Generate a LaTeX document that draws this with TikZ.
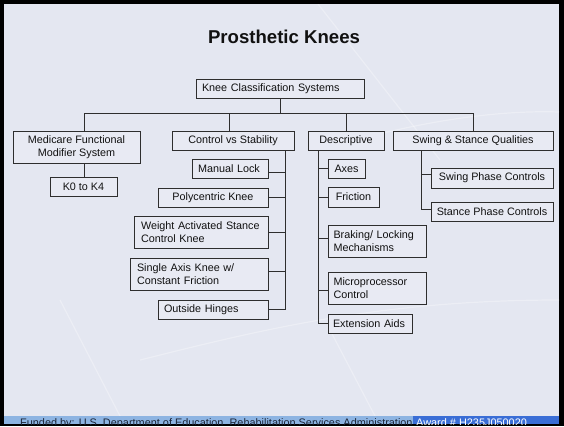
\documentclass[tikz,border=0pt]{standalone}
\usepackage{fontspec}
\setmainfont{Liberation Sans}
\definecolor{bg}{HTML}{E4E7F1}
\definecolor{boxc}{HTML}{E8EAF3}
\definecolor{linec}{HTML}{2E2E2E}
\definecolor{txt}{HTML}{111111}
\definecolor{footl}{HTML}{8DB4E2}
\definecolor{footd}{HTML}{3A6ED6}
\definecolor{foott}{HTML}{1C2638}
\begin{document}
\begin{tikzpicture}[x=1pt,y=-1pt,
  box/.style={draw=linec, line width=0.9pt, fill=boxc, inner sep=0pt,
    font=\fontsize{10.8}{13}\selectfont, text=txt},
  lbox/.style={box, align=left},
  cbox/.style={box, align=center},
  conn/.style={draw=linec, line width=0.9pt},
  deco/.style={draw=white, line width=1.2pt, opacity=0.3}]
\useasboundingbox (0,0) rectangle (564,426);
\fill[black] (0,0) rectangle (564,426);
\fill[bg] (4,4) rectangle (559,424);
% faint background swooshes
\begin{scope}
\clip (4,4) rectangle (559,416);
\draw[deco] (318,4) -- (440,160);
\draw[deco] (60,300) -- (120,416);
\draw[deco] (330,330) -- (375,416);
\draw[deco] (140,360) .. controls (260,330) and (380,300) .. (559,300);
\draw[deco] (320,150) .. controls (420,120) and (500,110) .. (559,112);
\end{scope}
% title
\node[anchor=base, inner sep=0pt, font=\fontsize{18.6}{22}\selectfont\bfseries, text=txt] (title) at (284,43) {Prosthetic Knees};
% root
\node[lbox, minimum width=168pt, minimum height=19pt, text width=156pt] (root) at (280,88.5) {Knee Classification Systems};
% level 1
\node[cbox, minimum width=127pt, minimum height=32pt] (med) at (76.5,147) {Medicare Functional\\Modifier System};
\node[cbox, minimum width=122pt, minimum height=19pt] (ctl) at (233,140.5) {Control vs Stability};
\node[cbox, minimum width=76pt, minimum height=19pt] (desc) at (346,140.5) {Descriptive};
\node[cbox, minimum width=160pt, minimum height=19pt] (ssq) at (473,140.5) {Swing \& Stance Qualities};
% medicare child
\node[cbox, minimum width=67pt, minimum height=19pt] (k0) at (83.5,186.5) {K0 to K4};
% control children
\node[lbox, minimum width=76pt, minimum height=19pt, text width=64pt] (ml) at (230,168.5) {Manual Lock};
\node[cbox, minimum width=110pt, minimum height=19pt] (poly) at (213,197.5) {Polycentric Knee};
\node[lbox, minimum width=134pt, minimum height=32pt, text width=120pt] (wa) at (201,232) {\mbox{Weight Activated Stance}\\Control Knee};
\node[lbox, minimum width=138pt, minimum height=32pt, text width=124pt] (sa) at (199,274) {\mbox{Single Axis Knee w/}\\Constant Friction};
\node[lbox, minimum width=110pt, minimum height=19pt, text width=98pt] (oh) at (213,309.5) {Outside Hinges};
% descriptive children
\node[cbox, minimum width=37pt, minimum height=19pt] (axes) at (346.5,168.5) {Axes};
\node[cbox, minimum width=51pt, minimum height=20pt] (fric) at (353.5,197) {Friction};
\node[lbox, minimum width=98pt, minimum height=32pt, text width=87pt] (brk) at (377,241) {\mbox{Braking/ Locking}\\Mechanisms};
\node[lbox, minimum width=98pt, minimum height=32pt, text width=87pt] (mic) at (377,288) {Microprocessor\\Control};
\node[lbox, minimum width=84pt, minimum height=19pt, text width=74pt] (ext) at (370,323.5) {Extension Aids};
% swing & stance children
\node[cbox, minimum width=122pt, minimum height=20pt] (swp) at (492,178) {Swing Phase Controls};
\node[cbox, minimum width=122pt, minimum height=19pt] (stp) at (492,211.5) {Stance Phase Controls};
% connectors: root to level 1
\coordinate (d1) at (84,113);
\coordinate (d2) at (229,113);
\coordinate (d3) at (346,113);
\coordinate (d4) at (473,113);
\draw[conn] (d1) -- (d4);
\draw[conn] (root.south) -- (root.south |- d1);
\draw[conn] (d1) -- (d1 |- med.north);
\draw[conn] (d2) -- (d2 |- ctl.north);
\draw[conn] (d3) -- (d3 |- desc.north);
\draw[conn] (d4) -- (d4 |- ssq.north);
\draw[conn] (d1 |- med.south) -- (d1 |- k0.north);
% control spine
\coordinate (cs) at (285,0);
\coordinate (mlc) at ([yshift=-3.5pt]ml.east);
\coordinate (sac) at ([yshift=3pt]sa.east);
\draw[conn] (cs |- ctl.south) |- (oh.east);
\draw[conn] (mlc) -- (mlc -| cs);
\draw[conn] (poly.east) -- (poly.east -| cs);
\draw[conn] (wa.east) -- (wa.east -| cs);
\draw[conn] (sac) -- (sac -| cs);
% descriptive spine
\coordinate (ds) at (318,0);
\coordinate (brkc) at ([yshift=3pt]brk.west);
\coordinate (micc) at ([yshift=-2pt]mic.west);
\draw[conn] (ds |- desc.south) |- (ext.west);
\draw[conn] (axes.west) -- (axes.west -| ds);
\draw[conn] (fric.west) -- (fric.west -| ds);
\draw[conn] (brkc) -- (brkc -| ds);
\draw[conn] (micc) -- (micc -| ds);
% swing & stance spine
\coordinate (ss) at (421,0);
\coordinate (swpc) at ([yshift=4pt]swp.west);
\coordinate (stpc) at ([yshift=2.5pt]stp.west);
\draw[conn] (ss |- ssq.south) |- (stpc);
\draw[conn] (swpc) -- (swpc -| ss);
% footer
\begin{scope}
\clip (4,416) rectangle (559,424);
\fill[footl] (4,416) rectangle (413,424);
\fill[footd] (413,416) rectangle (559,424);
\node[anchor=base west, inner sep=0pt, font=\fontsize{10.9}{13}\selectfont, text=foott] (fund) at (20,426.5) {Funded by: U.S. Department of Education, Rehabilitation Services Administration};
\node[anchor=base west, inner sep=0pt, font=\fontsize{10.9}{13}\selectfont, text=white] (award) at (416,426.5) {Award \# H235J050020};
\end{scope}
\end{tikzpicture}
\end{document}
